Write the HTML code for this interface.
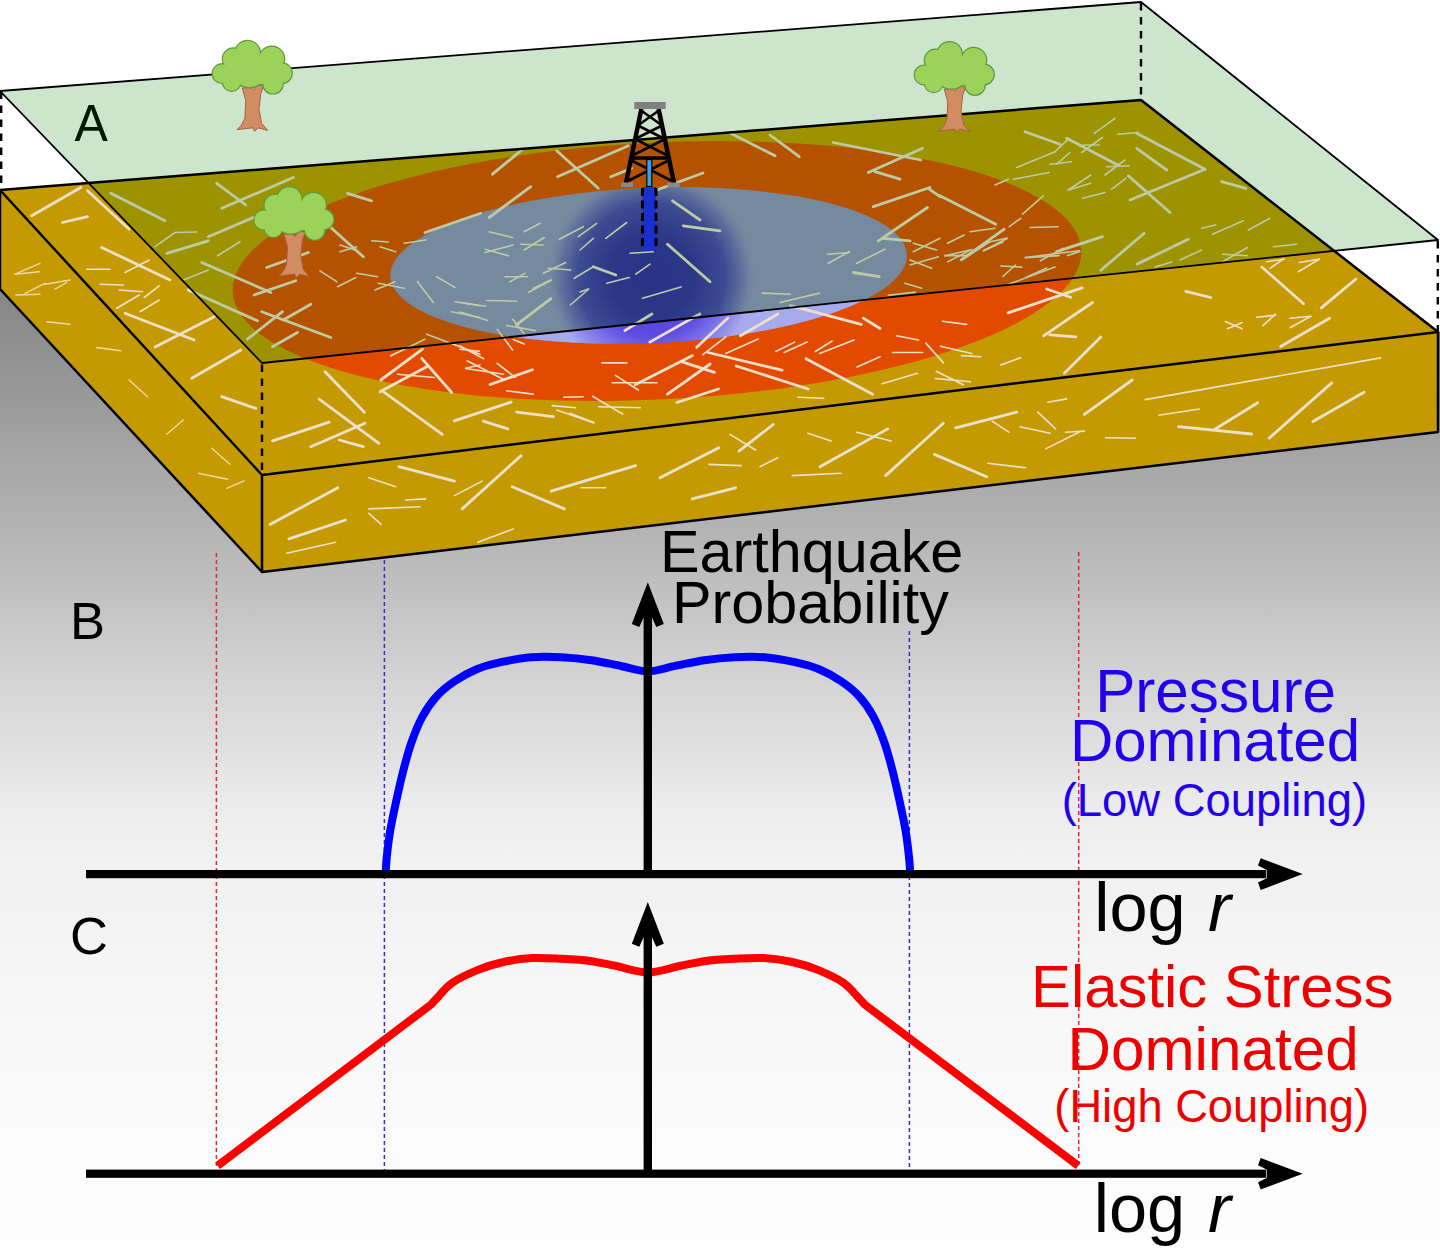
<!DOCTYPE html>
<html><head><meta charset="utf-8"><style>
html,body{margin:0;padding:0;background:#fff;}
svg{display:block;}
text{font-family:"Liberation Sans",sans-serif;}
</style></head><body>
<svg width="1440" height="1249" viewBox="0 0 1440 1249">
<defs>
<linearGradient id="bg" gradientUnits="userSpaceOnUse" x1="0" y1="250" x2="0" y2="1249">
<stop offset="0.0000" stop-color="rgb(127,127,127)"/>
<stop offset="0.0721" stop-color="rgb(140,140,140)"/>
<stop offset="0.1522" stop-color="rgb(154,154,154)"/>
<stop offset="0.2122" stop-color="rgb(167,167,167)"/>
<stop offset="0.2523" stop-color="rgb(174,174,174)"/>
<stop offset="0.3524" stop-color="rgb(195,195,195)"/>
<stop offset="0.4525" stop-color="rgb(216,216,216)"/>
<stop offset="0.5025" stop-color="rgb(225,225,225)"/>
<stop offset="0.5526" stop-color="rgb(235,235,235)"/>
<stop offset="0.6026" stop-color="rgb(241,241,241)"/>
<stop offset="0.6527" stop-color="rgb(242,242,242)"/>
<stop offset="0.7528" stop-color="rgb(247,247,247)"/>
<stop offset="0.8529" stop-color="rgb(250,250,250)"/>
<stop offset="0.9930" stop-color="rgb(254,254,254)"/>
<stop offset="1.0000" stop-color="rgb(254,254,254)"/>
</linearGradient>
<linearGradient id="bluebase" gradientUnits="userSpaceOnUse" x1="0" y1="240" x2="0" y2="345">
<stop offset="0" stop-color="#928ec6"/>
<stop offset="0.8" stop-color="#9a98d6"/>
<stop offset="1" stop-color="#aaaaee"/>
</linearGradient>
<radialGradient id="bluec" gradientUnits="userSpaceOnUse" cx="651" cy="277" r="105">
<stop offset="0" stop-color="#3424a6"/>
<stop offset="0.4" stop-color="#3628aa"/>
<stop offset="0.7" stop-color="#4c42b6"/>
<stop offset="0.88" stop-color="#7a76c4"/>
<stop offset="1" stop-color="#928ec6" stop-opacity="0"/>
</radialGradient>
<radialGradient id="bluestrip" gradientUnits="userSpaceOnUse" cx="651" cy="276" r="102">
<stop offset="0" stop-color="#4632dc"/>
<stop offset="0.6" stop-color="#5e4ee2"/>
<stop offset="0.85" stop-color="#8a84ea"/>
<stop offset="1" stop-color="#a8aaee"/>
</radialGradient>
<clipPath id="belowgt"><polygon points="262,363 1438,240 1438,600 262,600"/></clipPath>
<clipPath id="topclip"><polygon points="0,190 1141,100 1438,332 262,475"/></clipPath><clipPath id="frontclip"><polygon points="262,475 1438,332 1438,432 262,572"/></clipPath><clipPath id="leftclip"><polygon points="0,190 262,475 262,572 0,289"/></clipPath>
<g id="tree"><polygon points="242.3,88.1 245.8,100.5 244.9,118.1 241.4,125.2 237,129.6 252.9,127.8 254.6,131.3 258.1,127.8 267.8,130.4 261.7,123.4 259,109.3 260.8,93.4 263.4,86.4 256.4,83.7 253.7,89.9 249.3,87.3" fill="#d28c64" stroke="#a5623e" stroke-width="1"/><circle cx="222" cy="73.6" r="9.3" fill="#5f9a3a" stroke="#5f9a3a" stroke-width="2.4"/><circle cx="233.5" cy="59" r="10.6" fill="#5f9a3a" stroke="#5f9a3a" stroke-width="2.4"/><circle cx="247.6" cy="53.3" r="12.3" fill="#5f9a3a" stroke="#5f9a3a" stroke-width="2.4"/><circle cx="271.8" cy="59" r="12.3" fill="#5f9a3a" stroke="#5f9a3a" stroke-width="2.4"/><circle cx="282" cy="73.2" r="9.7" fill="#5f9a3a" stroke="#5f9a3a" stroke-width="2.4"/><circle cx="273" cy="83.7" r="9.7" fill="#5f9a3a" stroke="#5f9a3a" stroke-width="2.4"/><circle cx="231.7" cy="82" r="8.8" fill="#5f9a3a" stroke="#5f9a3a" stroke-width="2.4"/><circle cx="249.3" cy="69.6" r="17.6" fill="#5f9a3a" stroke="#5f9a3a" stroke-width="2.4"/><circle cx="260" cy="70" r="14" fill="#5f9a3a" stroke="#5f9a3a" stroke-width="2.4"/><circle cx="235" cy="70" r="8" fill="#5f9a3a" stroke="#5f9a3a" stroke-width="2.4"/><circle cx="266" cy="72" r="9" fill="#5f9a3a" stroke="#5f9a3a" stroke-width="2.4"/><circle cx="222" cy="73.6" r="9.3" fill="#9bd25a"/><circle cx="233.5" cy="59" r="10.6" fill="#9bd25a"/><circle cx="247.6" cy="53.3" r="12.3" fill="#9bd25a"/><circle cx="271.8" cy="59" r="12.3" fill="#9bd25a"/><circle cx="282" cy="73.2" r="9.7" fill="#9bd25a"/><circle cx="273" cy="83.7" r="9.7" fill="#9bd25a"/><circle cx="231.7" cy="82" r="8.8" fill="#9bd25a"/><circle cx="249.3" cy="69.6" r="17.6" fill="#9bd25a"/><circle cx="260" cy="70" r="14" fill="#9bd25a"/><circle cx="235" cy="70" r="8" fill="#9bd25a"/><circle cx="266" cy="72" r="9" fill="#9bd25a"/></g>
</defs>
<rect x="0" y="0" width="1440" height="1249" fill="#fff"/>
<rect x="0" y="250" width="1440" height="999" fill="url(#bg)"/>
<polygon points="1141,0 1440,0 1440,332 1141,100" fill="#fff"/>
<polygon points="0,80 120,80 0,190" fill="#fff"/>
<!-- ground block -->
<polygon points="0,190 262,475 262,572 0,289" fill="#c49a00"/>
<polygon points="262,475 1438,332 1438,432 262,572" fill="#c49a00"/>
<polygon points="0,190 1141,100 1438,332 262,475" fill="#c49a00"/>
<g clip-path="url(#topclip)">
<ellipse cx="657" cy="271" rx="424.8" ry="128.4" transform="rotate(-2.81 657 271)" fill="#e24a00"/>
<ellipse cx="648.6" cy="265.5" rx="258.5" ry="77.6" transform="rotate(-2.4 648.6 265.5)" fill="#928ec6"/>
<ellipse cx="648.6" cy="265.5" rx="258.5" ry="77.6" transform="rotate(-2.4 648.6 265.5)" fill="url(#bluec)"/>
<g clip-path="url(#belowgt)"><ellipse cx="648.6" cy="265.5" rx="258.5" ry="77.6" transform="rotate(-2.4 648.6 265.5)" fill="url(#bluestrip)"/></g>
<g stroke="#ece0cc" stroke-width="2.8" stroke-linecap="round"><line x1="31.7" y1="215.8" x2="80.8" y2="187.5"/><line x1="62.5" y1="222.5" x2="87.5" y2="216.7"/><line x1="87.5" y1="190.8" x2="129.2" y2="229.2"/><line x1="101.7" y1="247.5" x2="170.0" y2="280.0"/><line x1="125.0" y1="313.3" x2="194.2" y2="340.0"/><line x1="155.0" y1="347.0" x2="214.2" y2="316.7"/><line x1="110.8" y1="193.3" x2="165.0" y2="220.8"/><line x1="166.7" y1="253.3" x2="208.3" y2="240.8"/><line x1="216.7" y1="183.3" x2="245.8" y2="205.0"/><line x1="221.7" y1="208.3" x2="293.3" y2="177.5"/><line x1="208.3" y1="236.7" x2="253.3" y2="217.5"/><line x1="201.7" y1="262.5" x2="270.8" y2="292.5"/><line x1="188.3" y1="290.0" x2="257.5" y2="320.8"/><line x1="191.7" y1="378.3" x2="240.8" y2="350.0"/><line x1="221.7" y1="396.7" x2="255.8" y2="408.3"/><line x1="272.5" y1="346.7" x2="297.5" y2="332.5"/><line x1="272.5" y1="440.8" x2="329.2" y2="422.2"/><line x1="347.5" y1="193.3" x2="371.7" y2="200.8"/><line x1="330.8" y1="227.5" x2="363.3" y2="256.7"/><line x1="425.0" y1="232.5" x2="480.8" y2="213.3"/><line x1="266.7" y1="267.5" x2="308.3" y2="252.5"/><line x1="254.2" y1="295.0" x2="295.8" y2="280.8"/><line x1="261.7" y1="311.7" x2="330.8" y2="337.5"/><line x1="247.5" y1="339.2" x2="282.5" y2="311.7"/><line x1="283.3" y1="320.0" x2="310.8" y2="304.2"/><line x1="325.0" y1="371.7" x2="364.4" y2="412.2"/><line x1="319.2" y1="399.2" x2="378.9" y2="443.3"/><line x1="310.8" y1="446.7" x2="365.0" y2="423.3"/><line x1="339.2" y1="440.0" x2="363.3" y2="446.7"/><line x1="380.8" y1="380.0" x2="422.5" y2="349.2"/><line x1="380.0" y1="391.7" x2="426.7" y2="366.7"/><line x1="421.7" y1="358.3" x2="451.7" y2="392.5"/><line x1="383.3" y1="391.7" x2="442.2" y2="434.4"/><line x1="454.2" y1="420.8" x2="511.1" y2="402.2"/><line x1="492.5" y1="174.2" x2="526.7" y2="145.8"/><line x1="556.7" y1="150.8" x2="598.3" y2="188.3"/><line x1="557.5" y1="176.7" x2="628.3" y2="145.8"/><line x1="610.8" y1="176.7" x2="631.7" y2="168.3"/><line x1="489.2" y1="217.5" x2="530.8" y2="186.7"/><line x1="656.7" y1="190.0" x2="703.0" y2="173.0"/><line x1="672.5" y1="200.8" x2="700.0" y2="220.0"/><line x1="683.3" y1="225.8" x2="720.0" y2="230.8"/><line x1="667.5" y1="244.2" x2="710.0" y2="281.7"/><line x1="593.3" y1="266.7" x2="615.8" y2="275.0"/><line x1="729.2" y1="132.5" x2="775.0" y2="155.8"/><line x1="770.0" y1="135.0" x2="799.2" y2="156.7"/><line x1="833.3" y1="142.5" x2="920.8" y2="160.0"/><line x1="868.3" y1="172.5" x2="922.5" y2="148.3"/><line x1="875.0" y1="171.7" x2="900.0" y2="179.2"/><line x1="873.3" y1="206.7" x2="930.0" y2="187.5"/><line x1="928.3" y1="188.3" x2="940.0" y2="196.7"/><line x1="878.3" y1="240.8" x2="927.5" y2="207.5"/><line x1="883.3" y1="238.3" x2="910.0" y2="240.8"/><line x1="853.3" y1="272.5" x2="879.2" y2="276.7"/><line x1="1025.0" y1="131.7" x2="1060.0" y2="144.2"/><line x1="1066.7" y1="138.3" x2="1119.2" y2="165.8"/><line x1="1136.7" y1="133.3" x2="1205.0" y2="169.2"/><line x1="1136.7" y1="148.3" x2="1166.7" y2="170.0"/><line x1="1128.3" y1="175.8" x2="1170.0" y2="212.5"/><line x1="1130.0" y1="200.0" x2="1205.0" y2="169.2"/><line x1="940.0" y1="195.8" x2="995.8" y2="224.2"/><line x1="963.3" y1="258.3" x2="1004.2" y2="229.2"/><line x1="1056.7" y1="251.7" x2="1102.5" y2="236.7"/><line x1="1100.8" y1="270.2" x2="1144.2" y2="233.3"/><line x1="1137.3" y1="264.0" x2="1188.3" y2="239.2"/><line x1="1221.7" y1="181.7" x2="1245.8" y2="188.3"/><line x1="1261.8" y1="267.0" x2="1303.5" y2="303.8"/><line x1="1185.8" y1="291.3" x2="1210.8" y2="297.5"/><line x1="1321.3" y1="307.9" x2="1355.8" y2="279.2"/><line x1="1280.6" y1="346.5" x2="1329.6" y2="318.3"/><line x1="961.3" y1="259.8" x2="988.3" y2="242.1"/><line x1="1008.1" y1="312.9" x2="1082.1" y2="287.9"/><line x1="1046.7" y1="289.0" x2="1070.6" y2="297.3"/><line x1="1043.5" y1="335.8" x2="1092.5" y2="302.5"/><line x1="1049.8" y1="334.8" x2="1075.8" y2="336.9"/><line x1="1064.4" y1="373.3" x2="1100.8" y2="336.9"/><line x1="624.8" y1="330.6" x2="651.9" y2="314.0"/><line x1="649.8" y1="342.1" x2="699.8" y2="314.0"/><line x1="696.7" y1="347.3" x2="727.9" y2="318.1"/><line x1="740.4" y1="335.8" x2="777.9" y2="314.0"/><line x1="790.4" y1="305.6" x2="861.3" y2="324.4"/><line x1="863.3" y1="318.1" x2="880.0" y2="328.5"/><line x1="708.1" y1="352.5" x2="782.1" y2="370.2"/><line x1="736.3" y1="366.0" x2="808.1" y2="389.0"/><line x1="806.0" y1="358.8" x2="872.7" y2="394.2"/><line x1="635.2" y1="384.8" x2="692.5" y2="355.6"/><line x1="667.5" y1="394.2" x2="710.2" y2="364.0"/><line x1="682.1" y1="361.9" x2="714.4" y2="372.3"/><line x1="676.9" y1="402.5" x2="718.5" y2="389.0"/><line x1="483.3" y1="421.1" x2="507.8" y2="428.9"/><line x1="516.7" y1="412.2" x2="553.3" y2="416.7"/><line x1="516.4" y1="324.9" x2="551.0" y2="298.6"/><line x1="490.1" y1="384.5" x2="532.4" y2="369.7"/></g><g stroke="#ece0cc" stroke-width="1.6" stroke-linecap="round"><line x1="125.0" y1="272.5" x2="149.2" y2="260.0"/><line x1="86.7" y1="269.2" x2="110.0" y2="269.2"/><line x1="100.0" y1="284.2" x2="123.3" y2="285.0"/><line x1="119.2" y1="290.0" x2="142.5" y2="291.7"/><line x1="116.7" y1="308.3" x2="139.2" y2="295.0"/><line x1="144.2" y1="297.5" x2="159.2" y2="285.8"/><line x1="140.0" y1="311.7" x2="159.2" y2="300.0"/><line x1="155.0" y1="246.7" x2="175.0" y2="232.5"/><line x1="175.0" y1="232.5" x2="196.7" y2="232.0"/><line x1="217.5" y1="255.8" x2="240.0" y2="241.7"/><line x1="183.3" y1="280.0" x2="208.3" y2="270.0"/><line x1="340.0" y1="251.7" x2="356.7" y2="246.7"/><line x1="340.0" y1="245.0" x2="355.0" y2="250.0"/><line x1="371.7" y1="240.8" x2="388.3" y2="242.0"/><line x1="380.0" y1="246.7" x2="395.8" y2="251.7"/><line x1="404.2" y1="243.3" x2="425.8" y2="240.0"/><line x1="320.0" y1="270.8" x2="336.7" y2="281.7"/><line x1="337.5" y1="286.7" x2="355.8" y2="277.5"/><line x1="356.7" y1="273.3" x2="377.5" y2="276.7"/><line x1="375.0" y1="290.0" x2="395.0" y2="281.7"/><line x1="378.3" y1="283.3" x2="404.2" y2="288.3"/><line x1="417.5" y1="281.7" x2="433.3" y2="302.5"/><line x1="436.7" y1="276.7" x2="455.0" y2="287.5"/><line x1="397.5" y1="374.2" x2="434.2" y2="377.5"/><line x1="390.8" y1="355.8" x2="425.0" y2="339.2"/><line x1="426.7" y1="334.2" x2="480.0" y2="354.2"/><line x1="465.8" y1="368.3" x2="480.0" y2="365.0"/><line x1="455.0" y1="301.7" x2="480.0" y2="305.8"/><line x1="451.7" y1="311.7" x2="480.0" y2="317.5"/><line x1="489.2" y1="231.7" x2="512.5" y2="237.5"/><line x1="524.2" y1="231.7" x2="540.0" y2="223.3"/><line x1="485.0" y1="252.5" x2="513.3" y2="245.0"/><line x1="485.0" y1="249.2" x2="508.3" y2="255.8"/><line x1="520.8" y1="244.2" x2="543.3" y2="245.0"/><line x1="524.2" y1="250.0" x2="544.2" y2="237.5"/><line x1="559.2" y1="239.2" x2="583.3" y2="226.7"/><line x1="578.3" y1="236.7" x2="596.7" y2="223.3"/><line x1="580.0" y1="250.0" x2="593.3" y2="238.3"/><line x1="605.8" y1="238.3" x2="626.7" y2="222.5"/><line x1="630.0" y1="253.3" x2="653.3" y2="251.7"/><line x1="635.8" y1="274.2" x2="650.0" y2="264.2"/><line x1="574.2" y1="278.3" x2="593.3" y2="266.7"/><line x1="606.7" y1="283.3" x2="629.2" y2="277.5"/><line x1="543.3" y1="273.3" x2="565.8" y2="262.5"/><line x1="548.3" y1="268.3" x2="570.8" y2="270.0"/><line x1="505.0" y1="276.7" x2="527.5" y2="276.7"/><line x1="510.0" y1="281.7" x2="525.0" y2="273.3"/><line x1="533.3" y1="288.3" x2="550.8" y2="280.0"/><line x1="828.3" y1="263.3" x2="849.2" y2="251.7"/><line x1="827.5" y1="254.2" x2="849.2" y2="252.5"/><line x1="856.7" y1="263.3" x2="885.0" y2="249.2"/><line x1="913.3" y1="251.7" x2="940.0" y2="238.3"/><line x1="913.3" y1="243.3" x2="936.7" y2="250.0"/><line x1="910.0" y1="265.0" x2="938.3" y2="256.7"/><line x1="910.0" y1="260.0" x2="931.7" y2="268.3"/><line x1="905.0" y1="283.3" x2="921.7" y2="288.3"/><line x1="1094.2" y1="133.3" x2="1115.0" y2="118.3"/><line x1="1081.7" y1="152.5" x2="1102.5" y2="137.5"/><line x1="1083.3" y1="145.0" x2="1099.2" y2="145.0"/><line x1="1117.5" y1="134.2" x2="1138.3" y2="132.5"/><line x1="1016.7" y1="167.5" x2="1055.0" y2="151.7"/><line x1="1055.0" y1="151.7" x2="1068.3" y2="139.2"/><line x1="1050.0" y1="164.2" x2="1071.7" y2="161.7"/><line x1="1056.7" y1="164.2" x2="1070.0" y2="152.5"/><line x1="1105.0" y1="175.0" x2="1125.0" y2="160.0"/><line x1="1106.7" y1="166.7" x2="1129.2" y2="165.8"/><line x1="995.0" y1="185.0" x2="1008.3" y2="179.2"/><line x1="1013.3" y1="179.2" x2="1049.2" y2="172.5"/><line x1="1068.3" y1="190.0" x2="1090.8" y2="175.0"/><line x1="1068.3" y1="190.0" x2="1090.8" y2="183.3"/><line x1="1082.5" y1="198.3" x2="1105.0" y2="192.5"/><line x1="1111.7" y1="189.2" x2="1125.8" y2="178.3"/><line x1="1022.5" y1="214.2" x2="1043.3" y2="195.8"/><line x1="1009.2" y1="226.7" x2="1020.8" y2="218.3"/><line x1="1030.0" y1="227.5" x2="1058.3" y2="226.7"/><line x1="970.0" y1="231.7" x2="995.0" y2="228.3"/><line x1="947.5" y1="243.3" x2="964.2" y2="235.0"/><line x1="983.3" y1="250.8" x2="1007.5" y2="238.3"/><line x1="986.7" y1="242.5" x2="1006.7" y2="238.3"/><line x1="945.0" y1="255.8" x2="970.0" y2="250.0"/><line x1="1025.0" y1="257.5" x2="1079.2" y2="250.8"/><line x1="1201.7" y1="228.3" x2="1215.8" y2="225.0"/><line x1="1212.5" y1="234.2" x2="1243.3" y2="220.8"/><line x1="1248.3" y1="230.0" x2="1270.0" y2="218.3"/><line x1="1273.3" y1="246.7" x2="1296.7" y2="244.2"/><line x1="1180.0" y1="260.0" x2="1201.7" y2="250.0"/><line x1="1222.5" y1="261.7" x2="1247.5" y2="247.5"/><line x1="1222.5" y1="254.2" x2="1247.5" y2="255.8"/><line x1="1270.0" y1="268.3" x2="1283.3" y2="259.2"/><line x1="1266.7" y1="261.7" x2="1284.2" y2="259.2"/><line x1="1298.3" y1="271.7" x2="1319.2" y2="259.2"/><line x1="1299.2" y1="262.5" x2="1319.2" y2="259.2"/><line x1="1225.4" y1="321.5" x2="1242.1" y2="328.8"/><line x1="1227.5" y1="328.8" x2="1242.1" y2="322.5"/><line x1="1256.7" y1="317.3" x2="1275.4" y2="315.2"/><line x1="1262.9" y1="325.6" x2="1275.4" y2="314.2"/><line x1="1290.0" y1="318.3" x2="1310.8" y2="316.3"/><line x1="1290.0" y1="327.7" x2="1310.8" y2="316.3"/><line x1="944.6" y1="255.6" x2="967.5" y2="255.6"/><line x1="947.7" y1="261.9" x2="971.7" y2="249.4"/><line x1="984.2" y1="250.4" x2="1002.9" y2="242.1"/><line x1="888.3" y1="295.2" x2="915.4" y2="292.1"/><line x1="1000.8" y1="266.0" x2="1021.7" y2="267.1"/><line x1="1002.9" y1="276.5" x2="1015.4" y2="265.0"/><line x1="1007.1" y1="284.8" x2="1055.0" y2="267.1"/><line x1="1025.8" y1="277.5" x2="1046.7" y2="268.1"/><line x1="1025.8" y1="257.7" x2="1059.2" y2="255.6"/><line x1="1040.4" y1="260.8" x2="1063.3" y2="248.3"/><line x1="1067.5" y1="255.6" x2="1080.0" y2="251.5"/><line x1="1155.0" y1="267.1" x2="1171.7" y2="261.9"/><line x1="942.5" y1="321.3" x2="966.5" y2="324.4"/><line x1="896.7" y1="335.8" x2="918.5" y2="340.0"/><line x1="925.8" y1="343.1" x2="943.5" y2="362.9"/><line x1="892.5" y1="352.5" x2="922.7" y2="352.5"/><line x1="940.4" y1="346.3" x2="971.7" y2="353.5"/><line x1="961.3" y1="355.6" x2="981.0" y2="356.7"/><line x1="1000.8" y1="365.0" x2="1020.6" y2="357.7"/><line x1="882.1" y1="383.8" x2="917.5" y2="373.3"/><line x1="936.3" y1="371.3" x2="963.3" y2="384.8"/><line x1="935.2" y1="378.5" x2="970.6" y2="381.7"/><line x1="642.5" y1="298.3" x2="681.0" y2="286.9"/><line x1="580.0" y1="292.0" x2="588.3" y2="289.0"/><line x1="762.3" y1="293.1" x2="790.4" y2="294.2"/><line x1="780.0" y1="302.5" x2="819.6" y2="293.1"/><line x1="702.9" y1="354.6" x2="725.8" y2="336.9"/><line x1="725.8" y1="353.5" x2="758.1" y2="339.0"/><line x1="775.8" y1="351.5" x2="794.6" y2="342.1"/><line x1="784.2" y1="352.5" x2="807.1" y2="342.1"/><line x1="815.4" y1="351.5" x2="832.1" y2="341.0"/><line x1="819.6" y1="353.5" x2="854.0" y2="340.0"/><line x1="857.1" y1="367.1" x2="880.0" y2="356.7"/><line x1="601.9" y1="362.9" x2="626.9" y2="362.9"/><line x1="612.3" y1="382.7" x2="657.1" y2="382.7"/><line x1="615.4" y1="375.4" x2="638.3" y2="390.0"/><line x1="592.5" y1="396.3" x2="622.7" y2="414.0"/><line x1="598.8" y1="406.7" x2="640.4" y2="407.7"/><line x1="570.0" y1="413.3" x2="593.3" y2="422.2"/><line x1="797.7" y1="397.3" x2="823.8" y2="398.3"/><line x1="552.2" y1="405.6" x2="575.6" y2="407.8"/><line x1="556.7" y1="410.0" x2="594.0" y2="423.0"/><line x1="528.6" y1="292.2" x2="551.7" y2="280.0"/><line x1="486.3" y1="300.5" x2="516.4" y2="301.2"/><line x1="460.0" y1="302.4" x2="485.6" y2="306.3"/><line x1="460.0" y1="312.0" x2="487.6" y2="320.4"/><line x1="506.8" y1="325.5" x2="535.6" y2="330.6"/><line x1="512.6" y1="319.1" x2="524.1" y2="333.8"/><line x1="497.2" y1="329.4" x2="512.6" y2="349.9"/><line x1="570.3" y1="305.0" x2="588.8" y2="289.0"/><line x1="513.2" y1="339.6" x2="524.1" y2="344.1"/><line x1="460.0" y1="346.0" x2="483.7" y2="358.8"/><line x1="460.0" y1="349.2" x2="479.2" y2="351.2"/><line x1="467.1" y1="360.8" x2="502.3" y2="378.7"/><line x1="465.8" y1="368.5" x2="503.6" y2="374.2"/><line x1="497.2" y1="363.3" x2="515.1" y2="377.4"/><line x1="506.8" y1="390.9" x2="533.1" y2="394.1"/><line x1="563.8" y1="397.3" x2="583.1" y2="396.7"/></g>
</g>
<g clip-path="url(#frontclip)"><g stroke="#e8e2cc" stroke-width="2.8" stroke-linecap="round"><line x1="1178.5" y1="426.7" x2="1251.5" y2="434.0"/><line x1="1214.0" y1="429.8" x2="1257.7" y2="402.7"/><line x1="1269.2" y1="438.1" x2="1331.7" y2="382.9"/><line x1="1312.9" y1="421.5" x2="1364.0" y2="392.3"/><line x1="1084.4" y1="414.4" x2="1132.2" y2="380.0"/><line x1="955.6" y1="427.8" x2="1016.7" y2="412.2"/><line x1="270.0" y1="524.4" x2="337.8" y2="487.8"/><line x1="288.9" y1="538.9" x2="345.6" y2="520.0"/><line x1="398.9" y1="466.7" x2="454.4" y2="481.1"/><line x1="462.2" y1="508.9" x2="521.1" y2="455.6"/><line x1="512.2" y1="486.7" x2="564.4" y2="508.9"/><line x1="551.1" y1="491.1" x2="635.6" y2="465.6"/><line x1="660.0" y1="477.8" x2="718.9" y2="447.8"/><line x1="692.2" y1="498.9" x2="735.6" y2="487.8"/><line x1="738.9" y1="451.1" x2="773.3" y2="424.4"/><line x1="820.0" y1="466.7" x2="887.8" y2="428.9"/><line x1="885.6" y1="475.6" x2="943.3" y2="423.3"/><line x1="934.4" y1="454.4" x2="986.7" y2="476.7"/></g><g stroke="#e8e2cc" stroke-width="1.6" stroke-linecap="round"><line x1="1145.2" y1="399.6" x2="1380.6" y2="357.9"/><line x1="1158.8" y1="415.2" x2="1199.4" y2="409.0"/><line x1="1047.8" y1="402.2" x2="1066.7" y2="398.9"/><line x1="992.2" y1="421.1" x2="1008.9" y2="432.2"/><line x1="1037.8" y1="412.2" x2="1055.6" y2="428.9"/><line x1="1020.0" y1="426.7" x2="1050.0" y2="433.3"/><line x1="1065.6" y1="432.2" x2="1084.4" y2="431.1"/><line x1="1105.6" y1="437.8" x2="1135.6" y2="438.2"/><line x1="286.7" y1="553.3" x2="335.6" y2="542.2"/><line x1="368.9" y1="477.8" x2="395.6" y2="486.7"/><line x1="368.9" y1="508.9" x2="420.0" y2="506.7"/><line x1="405.6" y1="500.0" x2="425.6" y2="498.9"/><line x1="368.9" y1="513.3" x2="381.1" y2="524.4"/><line x1="454.4" y1="495.6" x2="482.2" y2="481.1"/><line x1="477.8" y1="542.2" x2="513.3" y2="528.9"/><line x1="581.1" y1="487.8" x2="605.6" y2="487.8"/><line x1="708.9" y1="464.4" x2="741.1" y2="465.6"/><line x1="730.0" y1="434.4" x2="755.6" y2="450.0"/><line x1="760.0" y1="466.7" x2="777.8" y2="457.8"/><line x1="807.8" y1="433.3" x2="831.1" y2="441.1"/><line x1="856.7" y1="432.2" x2="891.1" y2="441.1"/><line x1="792.2" y1="475.6" x2="841.1" y2="473.3"/><line x1="987.8" y1="463.3" x2="1025.6" y2="467.8"/><line x1="1045.6" y1="448.9" x2="1078.9" y2="432.2"/></g></g>
<g clip-path="url(#leftclip)"><g stroke="#ecd9a6" stroke-width="1.8" stroke-linecap="round"></g><g stroke="#ecd9a6" stroke-width="1.4" stroke-linecap="round"><line x1="15.0" y1="274.2" x2="40.0" y2="263.3"/><line x1="15.0" y1="274.2" x2="39.2" y2="271.7"/><line x1="15.8" y1="295.0" x2="40.0" y2="294.2"/><line x1="25.0" y1="293.3" x2="45.0" y2="283.3"/><line x1="45.0" y1="284.2" x2="70.0" y2="280.0"/><line x1="55.0" y1="289.2" x2="66.7" y2="282.5"/><line x1="46.7" y1="321.7" x2="70.0" y2="324.2"/><line x1="96.7" y1="347.5" x2="120.8" y2="350.8"/><line x1="129.2" y1="380.0" x2="147.5" y2="396.7"/><line x1="166.7" y1="434.2" x2="183.3" y2="420.0"/><line x1="211.7" y1="448.3" x2="230.0" y2="464.2"/><line x1="198.3" y1="473.3" x2="227.5" y2="479.2"/><line x1="226.7" y1="488.3" x2="244.2" y2="480.8"/></g></g>
<text x="74.5" y="140.6" font-size="50" transform="translate(0 140.6) scale(1 1.04) translate(0 -140.6)" fill="#000">A</text>
<!-- green overlay -->
<polygon points="0,91 1141,2 1438,240 262,363" fill="rgb(0,116,0)" fill-opacity="0.195"/>
<!-- outlines -->
<g fill="none" stroke="#000" stroke-width="1.8" stroke-linejoin="round">
<polygon points="0,91 1141,2 1438,240 262,363"/>
</g>
<g fill="none" stroke="#000" stroke-width="2.5" stroke-linejoin="round">
<polygon points="0,190 1141,100 1438,332 262,475"/>
<polyline points="262,475 262,572 1438,432 1438,332"/>
<polyline points="0,190 0,289 262,572"/>
</g>
<g stroke="#000" stroke-width="2.4" stroke-dasharray="7.5 6.5">
<line x1="1.2" y1="91.5" x2="1.2" y2="190"/>
<line x1="1141" y1="3" x2="1141" y2="100"/>
<line x1="1437.8" y1="241" x2="1437.8" y2="332"/>
<line x1="262" y1="364.5" x2="262" y2="475"/>
</g>
<use href="#tree"/>
<use href="#tree" transform="translate(702 1.3)"/>
<use href="#tree" transform="translate(41.7 146.3)"/>
<g stroke="#000" stroke-width="4.5" stroke-linecap="butt"><line x1="641.4" y1="109" x2="626" y2="183"/><line x1="658.6" y1="109" x2="674" y2="183"/></g><g stroke="#000" stroke-width="2.6"><line x1="641.1" y1="110.5" x2="662.1" y2="125.5"/><line x1="658.9" y1="110.5" x2="637.9" y2="125.5"/><line x1="637.9" y1="125.5" x2="664.9" y2="139"/><line x1="662.1" y1="125.5" x2="635.1" y2="139"/><line x1="635.1" y1="139" x2="668.5" y2="156"/><line x1="664.9" y1="139" x2="631.5" y2="156"/><line x1="631.1" y1="158" x2="668.9" y2="158" stroke-width="3.4"/><line x1="630.6" y1="160" x2="674.0" y2="182"/><line x1="669.4" y1="160" x2="626.0" y2="182"/></g><rect x="634.3" y="102" width="31.4" height="7" fill="#808080"/><rect x="646.8" y="159.5" width="5" height="27" fill="#38a0ea" stroke="#000" stroke-width="1.2"/><rect x="621" y="182.5" width="12" height="4.5" fill="#8a8a8a"/><rect x="667.6" y="182.5" width="12" height="4.5" fill="#8a8a8a"/><rect x="642.5" y="187" width="13.5" height="63" fill="#1a2fd0"/><g stroke="#000" stroke-width="3" stroke-dasharray="8 4.5"><line x1="642.5" y1="188" x2="642.5" y2="250"/><line x1="656" y1="188" x2="656" y2="250"/></g>
<!-- chart -->
<g stroke-width="1.5" stroke-dasharray="4 3" fill="none">
<line x1="216.4" y1="553" x2="216.4" y2="1168" stroke="#e8203a"/>
<line x1="384.4" y1="560" x2="384.4" y2="1170" stroke="#3030c8"/>
<line x1="909.4" y1="631" x2="909.4" y2="1168" stroke="#3030c8"/>
<line x1="1078.7" y1="552" x2="1078.7" y2="1168" stroke="#e8203a"/>
</g>
<path d="M385.7,874.0 C385.8,871.7 385.8,867.1 386.5,860.0 C387.2,852.9 388.5,841.2 390.1,831.4 C391.7,821.6 394.0,811.3 396.2,801.2 C398.4,791.1 400.7,780.7 403.2,771.0 C405.7,761.3 408.1,751.9 411.3,742.8 C414.5,733.7 418.2,724.3 422.4,716.6 C426.6,708.9 431.1,702.4 436.5,696.5 C441.9,690.6 447.9,685.8 454.6,681.3 C461.3,676.8 469.0,672.5 476.7,669.3 C484.4,666.1 491.8,664.2 500.9,662.2 C510.0,660.2 521.0,658.0 531.1,657.2 C541.2,656.4 551.2,656.7 561.3,657.2 C571.4,657.7 581.4,658.7 591.5,660.2 C601.6,661.7 612.3,664.4 621.7,666.2 C631.1,668.1 639.2,671.3 647.9,671.3 C656.6,671.3 664.7,668.1 674.1,666.2 C683.5,664.4 694.2,661.7 704.3,660.2 C714.4,658.7 724.4,657.7 734.5,657.2 C744.6,656.7 754.6,656.4 764.7,657.2 C774.8,658.0 785.8,660.2 794.9,662.2 C804.0,664.2 811.4,666.1 819.1,669.3 C826.8,672.5 834.5,676.8 841.2,681.3 C847.9,685.8 853.9,690.6 859.3,696.5 C864.7,702.4 869.2,708.9 873.4,716.6 C877.6,724.3 881.3,733.7 884.5,742.8 C887.7,751.9 890.1,761.3 892.6,771.0 C895.1,780.7 897.4,791.1 899.6,801.2 C901.8,811.3 904.1,821.6 905.7,831.4 C907.3,841.2 908.6,852.9 909.3,860.0 C910.0,867.1 910.0,871.7 910.1,874.0" fill="none" stroke="#0000ff" stroke-width="8" stroke-linejoin="round"/>
<path d="M217.6,1165.8 L431.6,1004.1 C432.4,1003.2 432.9,1002.3 436.4,998.7 C439.9,995.1 445.5,987.5 452.4,982.7 C459.3,977.9 469.5,973.4 478.0,969.9 C486.5,966.4 494.4,964.0 503.5,962.0 C512.5,960.0 522.7,958.6 532.3,958.1 C541.9,957.6 551.4,958.3 561.0,958.8 C570.6,959.3 580.8,959.8 589.8,961.0 C598.8,962.2 605.6,963.9 615.3,965.8 C625.0,967.7 637.0,972.3 647.9,972.3 C658.8,972.3 670.8,967.7 680.5,965.8 C690.2,963.9 697.0,962.2 706.0,961.0 C715.0,959.8 725.2,959.3 734.8,958.8 C744.4,958.3 753.9,957.6 763.5,958.1 C773.1,958.6 783.2,960.0 792.3,962.0 C801.3,964.0 809.3,966.4 817.8,969.9 C826.3,973.4 836.5,977.9 843.4,982.7 C850.3,987.5 855.9,995.1 859.4,998.7 C862.9,1002.3 863.4,1003.2 864.2,1004.1 L1078.2,1165.8" fill="none" stroke="#ff0000" stroke-width="8" stroke-linejoin="round"/>
<g fill="#000">
<rect x="86" y="870" width="1180" height="8.2"/>
<rect x="86" y="1169.6" width="1180" height="8.2"/>
<rect x="643.6" y="615" width="8.4" height="259"/>
<rect x="643.6" y="935" width="8.4" height="240"/>
</g>
<polygon points="647.8,582.3 663.8,624.0 656.3,627.1 652.0,617.6 643.6,617.6 639.3,627.1 631.8,624.0" fill="#000"/>
<polygon points="647.8,902.0 663.8,943.7 656.3,946.8 652.0,937.3 643.6,937.3 639.3,946.8 631.8,943.7" fill="#000"/>
<polygon points="1302.7,874.1 1260.7,858.3 1258.0,865.6 1266.7,869.9 1266.7,878.3 1258.0,882.6 1260.7,889.9" fill="#000"/>
<polygon points="1302.7,1173.7 1260.7,1157.9 1258.0,1165.2 1266.7,1169.5 1266.7,1177.9 1258.0,1182.2 1260.7,1189.5" fill="#000"/>
<g font-size="59.3" fill="#000" text-anchor="start">
<text x="660" y="572">Earthquake</text>
<text x="672" y="622.5">Probability</text>
</g>
<g fill="#2200ee" text-anchor="middle">
<text x="1215.6" y="712.2" font-size="60.2">Pressure</text>
<text x="1215" y="760.8" font-size="60">Dominated</text>
<text x="1214.4" y="815.8" font-size="45.4">(Low Coupling)</text>
</g>
<g fill="#ee0000" text-anchor="middle">
<text x="1212.2" y="1006.5" font-size="59.8">Elastic Stress</text>
<text x="1213.1" y="1069.8" font-size="60.2">Dominated</text>
<text x="1211.7" y="1121.8" font-size="45.3">(High Coupling)</text>
</g>
<g fill="#000" font-size="68">
<text x="1094.3" y="931.1" font-size="68.5">log</text><text x="1208" y="931.1" font-size="69" font-style="italic">r</text>
<text x="1093.7" y="1231.6" font-size="68.5">log</text><text x="1208" y="1231.6" font-size="69" font-style="italic">r</text>
<text x="70" y="638.5" font-size="52.5">B</text>
<text x="70" y="953.5" font-size="52.5">C</text>
</g>
</svg>
</body></html>
